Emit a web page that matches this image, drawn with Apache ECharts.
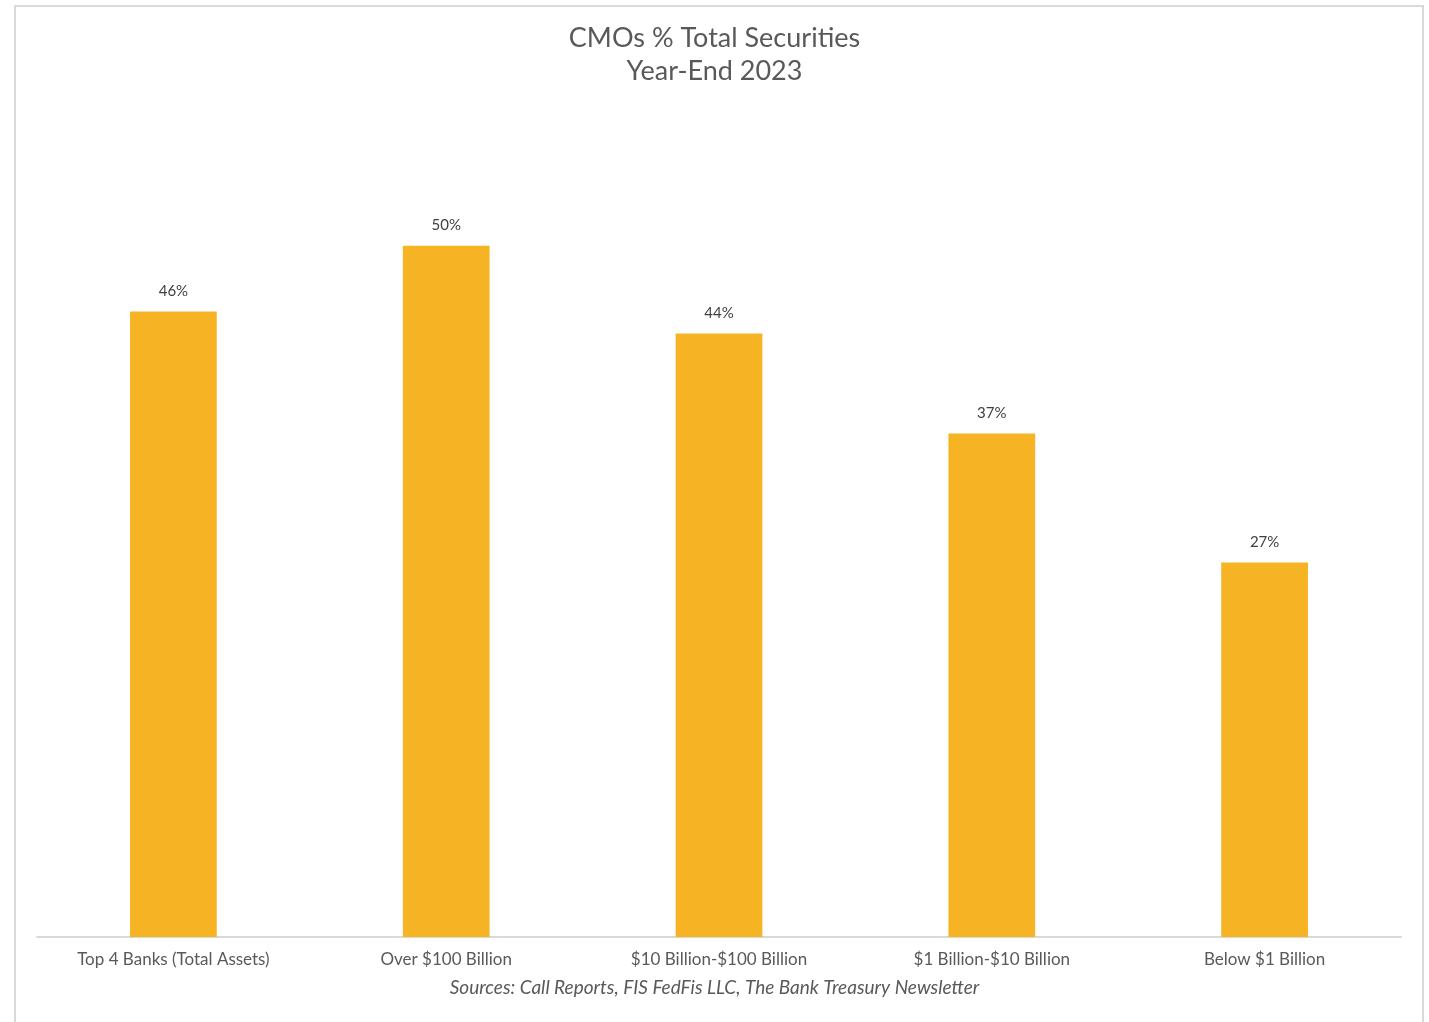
<!DOCTYPE html>
<html>
<head>
<meta charset="utf-8">
<script src="https://cdn.jsdelivr.net/npm/echarts@6/dist/echarts.min.js"></script>
<style>
html,body{margin:0;padding:0;background:#fff;}
#chart{width:1429px;height:1022px;}
</style>
</head>
<body>
<div id="chart"></div>
<script>
var titleLines = ['CMOs % Total Securities', 'Year-End 2023'];
var categories = ['Top 4 Banks (Total Assets)', 'Over $100 Billion', '$10 Billion-$100 Billion', '$1 Billion-$10 Billion', 'Below $1 Billion'];
var values = [45.6, 50.4, 44.0, 36.7, 27.3];
var sourceText = 'Sources: Call Reports, FIS FedFis LLC, The Bank Treasury Newsletter';

var chart = echarts.init(document.getElementById('chart'), null, {renderer: 'canvas'});
var FONT = 'Lato';
chart.setOption({
  backgroundColor: '#ffffff',
  animation: false,
  title: {
    text: titleLines.join('\n'),
    left: 'center',
    top: 17,
    textStyle: {fontFamily: FONT, fontSize: 27, fontWeight: 'normal', color: '#595959', lineHeight: 33}
  },
  grid: {left: 37, right: 28, top: 114, bottom: 85, containLabel: false},
  xAxis: {
    type: 'category',
    data: categories,
    axisLine: {show: true, lineStyle: {color: '#d9d9d9', width: 2}},
    axisTick: {show: false},
    axisLabel: {fontFamily: FONT, fontSize: 17, color: '#595959', margin: 14, interval: 0}
  },
  yAxis: {
    type: 'value',
    min: 0, max: 60,
    show: false,
    splitLine: {show: false}
  },
  series: [{
    type: 'bar',
    data: values,
    barWidth: '31.8%',
    itemStyle: {color: '#F6B425'},
    label: {
      show: true,
      position: 'top',
      distance: 13,
      fontFamily: FONT,
      fontSize: 15,
      color: '#404040',
      formatter: function (p) { return Math.round(p.value) + '%'; }
    }
  }],
  graphic: [
    {
      type: 'rect',
      shape: {x: 15, y: 6, width: 1408, height: 1030},
      style: {fill: 'none', stroke: '#d9d9d9', lineWidth: 2},
      silent: true
    },
    {
      type: 'text',
      left: 'center',
      top: 978,
      style: {text: sourceText, font: 'italic 19px ' + FONT, fill: '#595959'}
    }
  ]
});
</script>
</body>
</html>
